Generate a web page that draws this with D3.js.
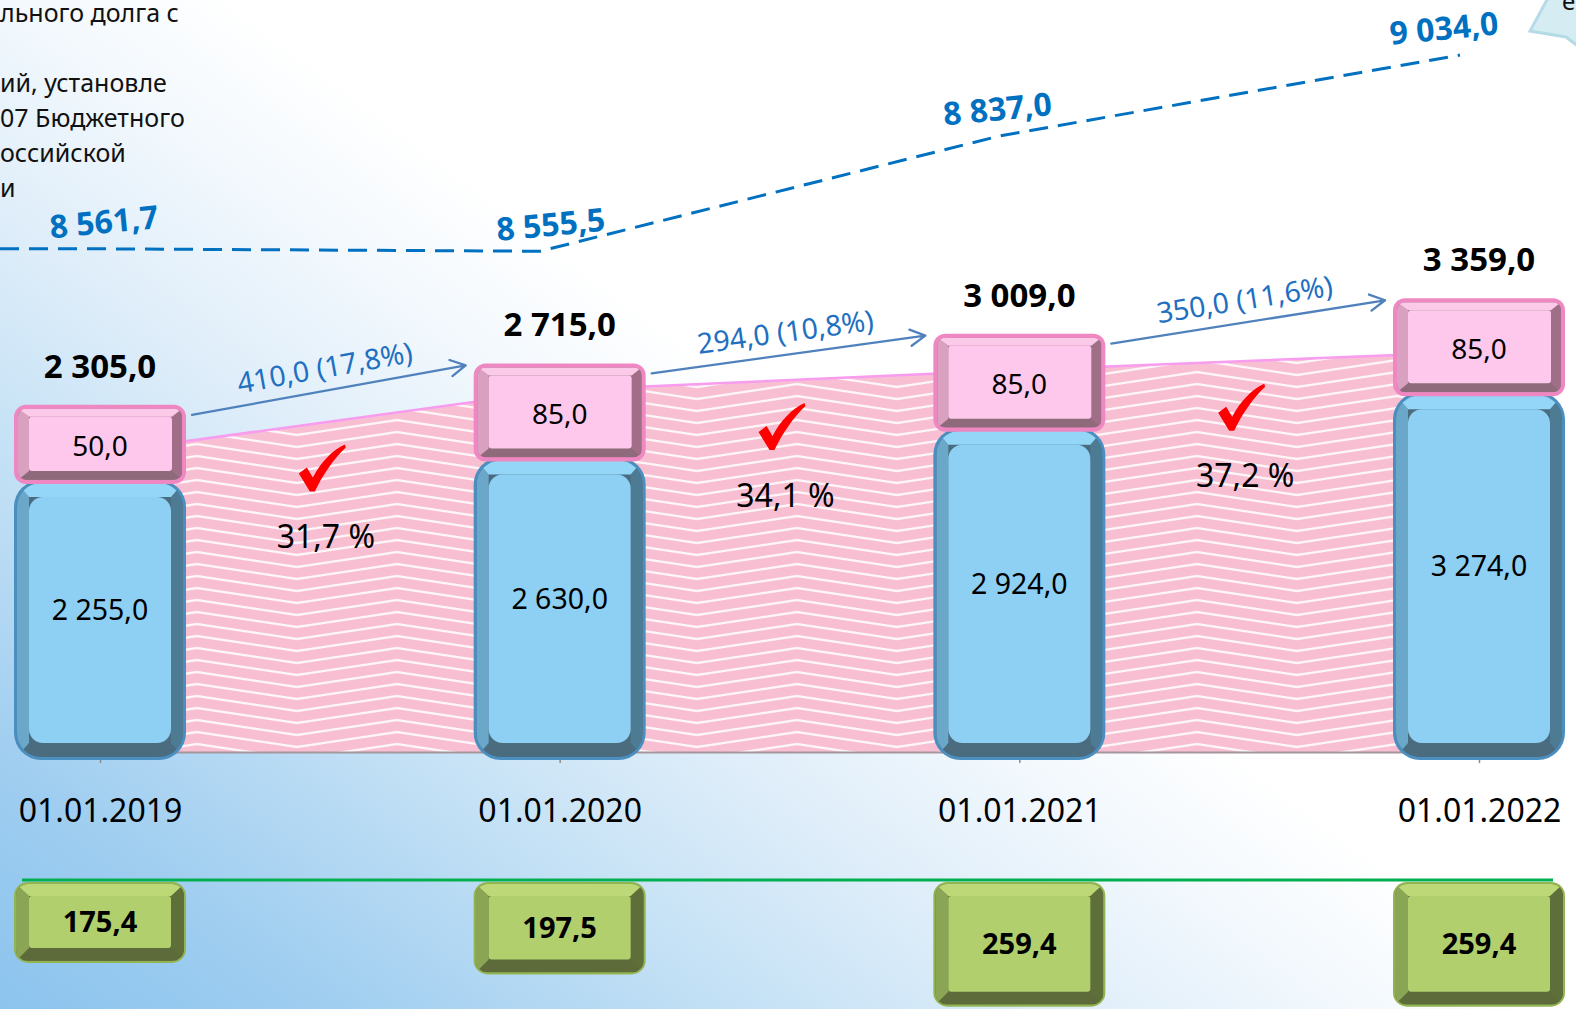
<!DOCTYPE html>
<html lang="ru">
<head>
<meta charset="utf-8">
<title>Муниципальный долг</title>
<script src="https://cdn.jsdelivr.net/npm/d3@7"></script>
<style>
  html, body { margin: 0; padding: 0; overflow: hidden; background: #fff; }
  svg { display: block; }
  text { font-family: "Noto Sans", "Open Sans", "DejaVu Sans", sans-serif; }
</style>
</head>
<body>
<svg id="chart" width="1576" height="1009"></svg>
<script>
// ---- data -------------------------------------------------------------
const dates = ["01.01.2019", "01.01.2020", "01.01.2021", "01.01.2022"];
const debtMain = [2255.0, 2630.0, 2924.0, 3274.0];   // lower (blue) part of the debt
const debtTop = [50.0, 85.0, 85.0, 85.0];            // upper (pink) part of the debt
const debtLimit = [8561.7, 8555.5, 8837.0, 9034.0];  // dashed limit line
const debtShare = [31.7, 34.1, 37.2];                // share between neighbouring dates, %
const shareLevel = [1830, 2450, 2650, 2830];         // top of the hatched band
const serviceCost = [175.4, 197.5, 259.4, 259.4];    // green boxes below the axis
const noteLines = ["льного долга с", "", "ий, установле", "07 Бюджетного", "оссийской", "и"];

const debtTotal = debtMain.map((v, i) => v + debtTop[i]);

// ---- formatting -------------------------------------------------------
const ru = d3.formatLocale({ decimal: ",", thousands: "\u00a0", grouping: [3], currency: ["", ""] });
const fmt = ru.format(",.1f");

// ---- canvas -----------------------------------------------------------
const W = 1576, H = 1009;
const svg = d3.select("#chart");
const defs = svg.append("defs");

// soft diagonal background
const bg = defs.append("linearGradient").attr("id", "bg")
  .attr("gradientUnits", "userSpaceOnUse")
  .attr("x1", 0).attr("y1", 1009).attr("x2", 568).attr("y2", 251);
[[0, "#8cc4ee"], [0.2, "#9ecdf0"], [0.5, "#c8e3f6"], [0.65, "#dcecf9"], [0.85, "#f2f8fd"], [1, "#ffffff"]]
  .forEach(([o, c]) => bg.append("stop").attr("offset", o).attr("stop-color", c));
svg.append("rect").attr("width", W).attr("height", H).attr("fill", "url(#bg)");

// zigzag hatch for the band
const zig = defs.append("pattern").attr("id", "zig")
  .attr("patternUnits", "userSpaceOnUse")
  .attr("x", 197).attr("y", 0).attr("width", 200).attr("height", 12);
zig.append("rect").attr("width", 200).attr("height", 12).attr("fill", "#f7bfd1");
for (let k = -2; k <= 2; k++) {
  zig.append("path")
    .attr("d", `M0,${k * 12} L100,${k * 12 + 15} L200,${k * 12}`)
    .attr("fill", "none").attr("stroke", "#ffffff").attr("stroke-opacity", 0.85)
    .attr("stroke-width", 2.3);
}

// ---- scales -----------------------------------------------------------
const x = d3.scalePoint().domain(dates).range([100, 1479]);
const y = d3.scaleLinear().domain([0, 3500]).range([638, 284]);
const capH = d3.scaleLinear().domain([0, 85]).range([52, 98]);
const xLimit = d3.scalePoint().domain(dates).range([80, 1460]);
const xLimitLabel = d3.scalePoint().domain(dates).range([104, 1444]);
const yLimit = d3.scaleLinear().domain([8500, 9100]).range([274, 28]);
const hGreen = d3.scaleLinear().domain([20, 260]).range([0, 125]);

const floorY = 752, barBottom = 760, barW = 172;

// ---- bevelled box helper -----------------------------------------------
let clipN = 0;
function bevelBox(parent, bx, by, bw, bh, s) {
  const g = parent.append("g");
  const id = "bevel" + (clipN++);
  const b = s.border;
  const ix1 = bx + b, iy1 = by + b, ix2 = bx + bw - b, iy2 = by + bh - b;
  defs.append("clipPath").attr("id", id).append("rect")
    .attr("x", ix1).attr("y", iy1).attr("width", ix2 - ix1).attr("height", iy2 - iy1)
    .attr("rx", Math.max(0, s.r - b));
  g.append("rect").attr("x", bx).attr("y", by).attr("width", bw).attr("height", bh)
    .attr("rx", s.r).attr("fill", s.edge);
  const inner = g.append("g").attr("clip-path", `url(#${id})`);
  inner.append("rect").attr("x", ix1).attr("y", iy1).attr("width", ix2 - ix1).attr("height", iy2 - iy1)
    .attr("fill", s.bottom);
  const fx1 = bx + s.l, fy1 = by + s.t, fx2 = bx + bw - s.rt, fy2 = by + bh - s.b;
  const poly = (pts, fill) => inner.append("path").attr("d", "M" + pts.map(p => p.join(",")).join("L") + "Z").attr("fill", fill);
  poly([[ix2, iy1], [ix2, iy2], [fx2, fy2], [fx2, fy1]], s.right);
  poly([[ix1, iy1], [fx1, fy1], [fx1, fy2], [ix1, iy2]], s.left);
  poly([[ix1, iy1], [ix2, iy1], [fx2, fy1], [fx1, fy1]], s.top);
  g.append("rect").attr("x", fx1).attr("y", fy1).attr("width", fx2 - fx1).attr("height", fy2 - fy1)
    .attr("rx", s.fr).attr("fill", s.face);
  return { fx1, fy1, fx2, fy2 };
}

const blueStyle = { border: 3, r: 27, t: 17, l: 15, rt: 15, b: 17, fr: 14,
  edge: "#4a8fbf", top: "#93d6f7", left: "#6aa7c9", right: "#4c7b93", bottom: "#4b6b7e", face: "#8dd0f4" };
const pinkStyle = { border: 4, r: 12, t: 12, l: 15, rt: 14, b: 13, fr: 3,
  edge: "#ef88c2", top: "#fbcae9", left: "#d9a1bf", right: "#a06e87", bottom: "#8f6a7b", face: "#fec8ec" };
const greenStyle = { border: 2, r: 14, t: 14, l: 15, rt: 15, b: 15, fr: 3,
  edge: "#93b452", top: "#bcd877", left: "#8aa553", right: "#5f6f39", bottom: "#5d6b3b", face: "#b1cf6d" };

// ---- note text (top left, running off the left edge) --------------------
svg.append("g").selectAll("text").data(noteLines).join("text")
  .attr("x", 0)
  .attr("y", (d, i) => 22 + i * 35)
  .attr("font-size", 25).attr("fill", "#111")
  .text(d => d);

// callout corner (top right)
svg.append("path")
  .attr("d", "M1548,-2 L1530,31 L1566,37 L1578,46 L1578,-2 Z")
  .attr("fill", "#d5ecf3").attr("stroke", "#b5dbe7").attr("stroke-width", 3);
svg.append("text").attr("x", 1562).attr("y", 10).attr("font-size", 24).attr("fill", "#111").text("е");

// ---- hatched band -------------------------------------------------------
const band = d3.area()
  .x((d, i) => x(dates[i]))
  .y0(floorY)
  .y1(d => y(d));
svg.append("path").datum(shareLevel).attr("d", band).attr("fill", "url(#zig)");
svg.append("path").datum(shareLevel)
  .attr("d", d3.line().x((d, i) => x(dates[i])).y(d => y(d)))
  .attr("fill", "none").attr("stroke", "#f79cef").attr("stroke-width", 2.5);

// ---- axis ---------------------------------------------------------------
const axisG = svg.append("g").attr("transform", `translate(0,${floorY})`)
  .call(d3.axisBottom(x).tickSizeInner(11).tickSizeOuter(0).tickPadding(36));
axisG.select(".domain").attr("stroke", "#a4969c").attr("stroke-width", 2);
axisG.selectAll(".tick line").attr("stroke", "#8a8a8a").attr("stroke-width", 1.5);
axisG.selectAll(".tick text")
  .attr("font-size", 32).attr("fill", "#000")
  .attr("font-family", "'Noto Sans', 'Open Sans', sans-serif");

// ---- stacked bars ---------------------------------------------------------
const bars = svg.append("g");
dates.forEach((d, i) => {
  const cx = x(d);
  const top = y(debtTotal[i]);
  const pinkBottom = top + capH(debtTop[i]);
  const blueTop = pinkBottom - 4;

  bevelBox(bars, cx - barW / 2, blueTop, barW, barBottom - blueTop, blueStyle);
  const pf = bevelBox(bars, cx - barW / 2, top, barW, pinkBottom - top, pinkStyle);

  bars.append("text").attr("x", cx).attr("y", (blueTop + barBottom) / 2 - 10)
    .attr("dy", "0.36em").attr("text-anchor", "middle")
    .attr("font-size", 28.5).attr("fill", "#000").text(fmt(debtMain[i]));
  bars.append("text").attr("x", cx).attr("y", (pf.fy1 + pf.fy2) / 2 + 2)
    .attr("dy", "0.36em").attr("text-anchor", "middle")
    .attr("font-size", 28).attr("fill", "#000").text(fmt(debtTop[i]));
  bars.append("text").attr("x", cx).attr("y", top - 27)
    .attr("text-anchor", "middle").attr("font-weight", 700)
    .attr("font-size", 33).attr("fill", "#000").text(fmt(debtTotal[i]));
});

// ---- growth arrows ------------------------------------------------------
const arrows = svg.append("g");
for (let i = 0; i < dates.length - 1; i++) {
  const x1 = x(dates[i]) + barW / 2 + 6, y1 = y(debtTotal[i]) + 10;
  const x2 = x(dates[i + 1]) - barW / 2 - 8, y2 = y(debtTotal[i + 1]) + 2;
  const a = Math.atan2(y2 - y1, x2 - x1);
  const head = 17, spread = 0.5;
  arrows.append("path")
    .attr("d", `M${x1},${y1} L${x2},${y2}
      M${x2 - head * Math.cos(a - spread)},${y2 - head * Math.sin(a - spread)} L${x2},${y2}
      L${x2 - head * Math.cos(a + spread)},${y2 - head * Math.sin(a + spread)}`)
    .attr("fill", "none").attr("stroke", "#4f81bd").attr("stroke-width", 2.3)
    .attr("stroke-linecap", "round").attr("stroke-linejoin", "round");
  const diff = debtTotal[i + 1] - debtTotal[i];
  const pct = diff / debtTotal[i] * 100;
  const mx = (x1 + x2) / 2 + 23 * Math.sin(a), my = (y1 + y2) / 2 - 23 * Math.cos(a);
  arrows.append("text")
    .attr("transform", `translate(${mx},${my}) rotate(${a * 180 / Math.PI})`)
    .attr("text-anchor", "middle").attr("dy", "0.36em")
    .attr("font-size", 28.5).attr("fill", "#1f70c1")
    .text(`${fmt(diff)} (${fmt(pct)}%)`);
}

// ---- share marks between dates ---------------------------------------------
const checkPath = "M0,29 L8,23 L14,33 C22,18 33,6 46,0 L47,3 C36,13 24,30 16,47 L11,47 Z";
const shares = svg.append("g");
debtShare.forEach((v, i) => {
  const mx = (x(dates[i]) + x(dates[i + 1])) / 2;
  const lvl = (y(shareLevel[i]) + y(shareLevel[i + 1])) / 2;
  shares.append("path").attr("d", checkPath)
    .attr("transform", `translate(${mx - 8 - 23},${lvl + 46 - 23})`)
    .attr("fill", "#ff0000");
  shares.append("text").attr("x", mx - 4).attr("y", lvl + 115)
    .attr("dy", "0.36em").attr("text-anchor", "middle")
    .attr("font-size", 32).attr("fill", "#000")
    .text(`${fmt(v)} %`);
});

// ---- limit line -----------------------------------------------------------
const limitPts = [[0, yLimit(debtLimit[0])]].concat(dates.map((d, i) => [xLimit(d), yLimit(debtLimit[i])]));
svg.append("path").datum(limitPts)
  .attr("d", d3.line())
  .attr("fill", "none").attr("stroke", "#0070c0").attr("stroke-width", 3)
  .attr("stroke-dasharray", "19 10");
svg.append("g").selectAll("text").data(debtLimit).join("text")
  .attr("transform", (v, i) => `translate(${xLimitLabel(dates[i])},${yLimit(v) - 27}) rotate(-5.5)`)
  .attr("text-anchor", "middle").attr("dy", "0.36em")
  .attr("font-size", 32).attr("font-weight", 700).attr("fill", "#0070c0")
  .text(v => fmt(v));

// ---- service cost row -----------------------------------------------------
svg.append("line").attr("x1", 22).attr("x2", 1553).attr("y1", 880).attr("y2", 880)
  .attr("stroke", "#00b050").attr("stroke-width", 3);
const greens = svg.append("g");
serviceCost.forEach((v, i) => {
  const cx = x(dates[i]);
  const h = hGreen(v);
  const f = bevelBox(greens, cx - barW / 2, 882, barW, h, greenStyle);
  greens.append("text").attr("x", cx).attr("y", (f.fy1 + f.fy2) / 2)
    .attr("dy", "0.36em").attr("text-anchor", "middle")
    .attr("font-size", 29).attr("font-weight", 700).attr("fill", "#000")
    .text(fmt(v));
});
</script>
</body>
</html>
